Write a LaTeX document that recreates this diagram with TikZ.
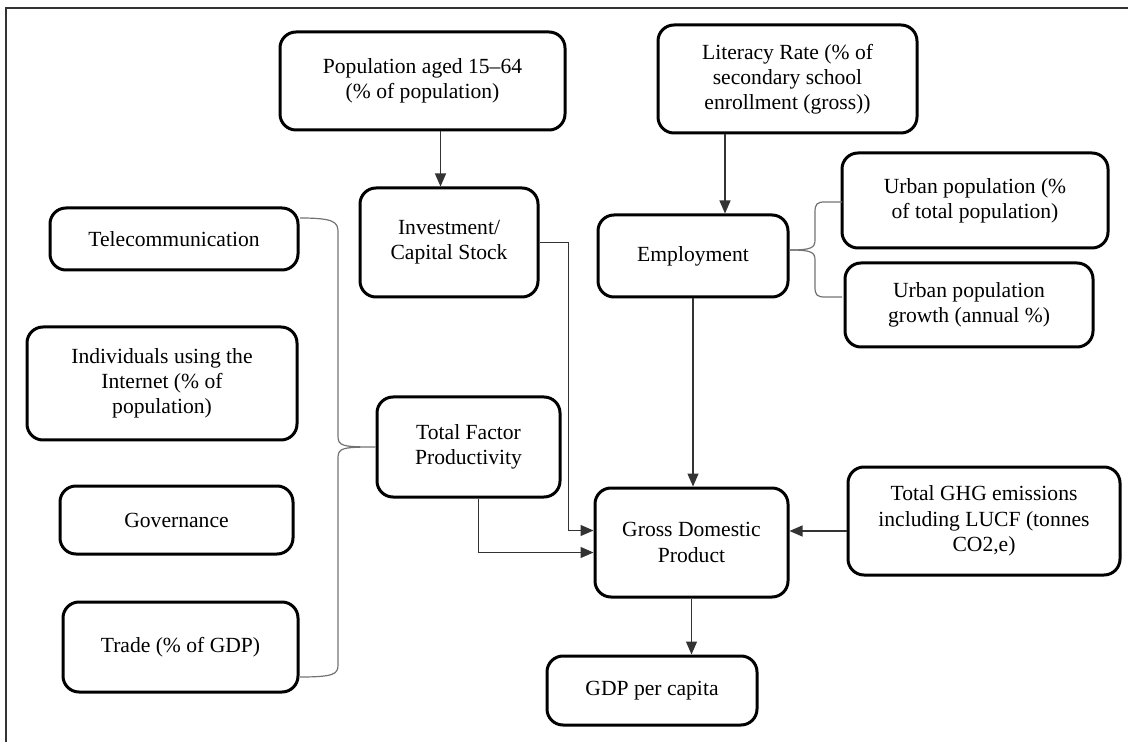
\documentclass[tikz,border=0pt]{standalone}
\usepackage{fontspec}
\setmainfont{Liberation Serif}
\usetikzlibrary{arrows.meta,calc}
\tikzset{
    box/.style={draw, line width=1.5pt, rounded corners=8pt, align=center,
        inner sep=2pt, font=\fontsize{10.8}{12.6}\selectfont},
    arr/.style={draw=black!80, line width=0.6pt, -{Triangle[length=6.5pt,width=5.5pt]}},
    brace/.style={draw=black!55, line width=0.6pt},
    frameline/.style={draw=black!80, line width=0.75pt}
}

\begin{document}
\begin{tikzpicture}[x=0.5pt, y=-0.5pt]
        \useasboundingbox (0,0) rectangle (1128,742);
        % frame
        \draw[frameline] (1128,8) -- (6,8) -- (6,742);

        % top row
        \node[box, minimum width=142.5pt, minimum height=49pt] (pop) at (422.5,81)
            {Population aged 15--64\\(\% of population)};
        \node[box, minimum width=129.5pt, minimum height=54pt] (lit) at (787.5,79)
            {Literacy Rate (\% of\\secondary school\\enrollment (gross))};

        % middle
        \node[box, minimum width=89pt, minimum height=54.5pt] (inv) at (449,242.5)
            {Investment/\\Capital Stock};
        \node[box, minimum width=95pt, minimum height=41pt] (emp) at (693,256)
            {Employment};
        \node[box, minimum width=133pt, minimum height=47.5pt] (urb) at (975,200.5)
            {Urban population (\%\\of total population)};
        \node[box, minimum width=124pt, minimum height=42pt] (urbgr) at (969,305)
            {Urban population\\growth (annual \%)};
        \node[box, minimum width=91.5pt, minimum height=50pt] (tfp) at (468.5,447)
            {Total Factor\\Productivity};

        % left column
        \node[box, minimum width=124pt, minimum height=31pt] (tel) at (174,239)
            {Telecommunication};
        \node[box, minimum width=135pt, minimum height=56.5pt] (inet) at (162,383.5)
            {Individuals using the\\Internet (\% of\\population)};
        \node[box, minimum width=116.5pt, minimum height=34pt] (gov) at (176.5,520)
            {Governance};
        \node[box, minimum width=117.5pt, minimum height=45pt] (trade) at (180.5,647)
            {Trade (\% of GDP)};

        % bottom
        \node[box, minimum width=96.5pt, minimum height=54.5pt] (gdp) at (691.5,542.5)
            {Gross Domestic\\Product};
        \node[box, minimum width=136pt, minimum height=54pt] (ghg) at (984,521)
            {Total GHG emissions\\including LUCF (tonnes\\CO2,e)};
        \node[box, minimum width=105pt, minimum height=34.5pt] (pc) at (652,690.5)
            {GDP per capita};

        % arrows
        \draw[arr] ([xshift=9pt]pop.south) -- ([xshift=9pt]pop.south |- inv.north);
        \draw[arr] ([xshift=16pt]emp.north |- lit.south) -- ([xshift=16pt]emp.north);
        \draw[arr] (emp.south) -- (emp.south |- gdp.north);
        \draw[arr] (inv.east) -- ++(14.5pt,0) |- ([yshift=6pt]gdp.west);
        \draw[arr] ([xshift=5pt]tfp.south) |- ([yshift=-5pt]gdp.west);
        \draw[arr] ([yshift=-5pt]ghg.west) -- ([yshift=-5pt]ghg.west -| gdp.east);
        \draw[arr] (gdp.south) -- (gdp.south |- pc.north);

        % brace left
        \coordinate (bt) at (300,218);
        \coordinate (bb) at (300,677);
        \draw[brace] (bt) .. controls (334,218) and (338,222) .. (338,232) -- (338,436)
            .. controls (338,446) and (342,447) .. (tfp.west)
            .. controls (342,447) and (338,448) .. (338,458) -- (338,665)
            .. controls (338,674) and (334,677) .. (bb);

        % brace right
        \coordinate (rt) at (842,202);
        \coordinate (rb) at (842,297);
        \draw[brace] (rt) -- (825,202) .. controls (817,202) and (815,204) .. (815,212) -- (815,240)
            .. controls (815,248) and (811,250) .. ([yshift=3pt]emp.east);
        \draw[brace] (rb) -- (825,297) .. controls (817,297) and (815,295) .. (815,287) -- (815,260)
            .. controls (815,252) and (811,250) .. ([yshift=3pt]emp.east);

\end{tikzpicture}
\end{document}
